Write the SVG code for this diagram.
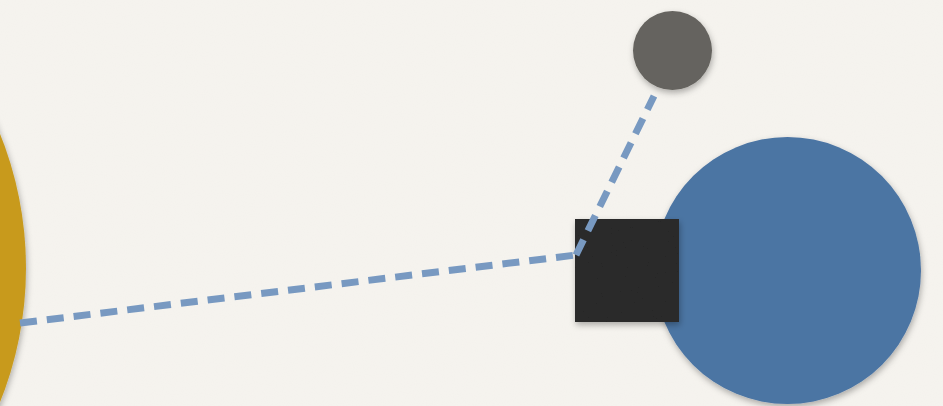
<svg xmlns="http://www.w3.org/2000/svg" width="943" height="406" viewBox="0 0 943 406">
<defs>
<filter id="shadow" x="-20%" y="-20%" width="140%" height="140%">
<feDropShadow dx="1" dy="3" stdDeviation="3" flood-color="#000" flood-opacity="0.3"/>
</filter>
<filter id="paper" x="0" y="0" width="100%" height="100%">
<feTurbulence type="fractalNoise" baseFrequency="0.9" numOctaves="2" seed="3" result="n"/>
<feColorMatrix in="n" type="matrix" values="0 0 0 0 0.5  0 0 0 0 0.47  0 0 0 0 0.42  0 0 0 0.05 0"/>
<feComposite in2="SourceGraphic" operator="over"/>
</filter>
<filter id="grain" x="0" y="0" width="100%" height="100%">
<feTurbulence type="fractalNoise" baseFrequency="0.8" numOctaves="2" seed="7" result="n"/>
<feColorMatrix in="n" type="matrix" values="0 0 0 0 0  0 0 0 0 0  0 0 0 0 0  0 0 0 0.18 0" result="g"/>
<feComposite in="g" in2="SourceAlpha" operator="in" result="gi"/>
<feMerge><feMergeNode in="SourceGraphic"/><feMergeNode in="gi"/></feMerge>
</filter>
</defs>
<style>
.conn{fill:none;stroke:#7899c1;stroke-width:7;stroke-dasharray:17 10}
.node{filter:url(#shadow)}
</style>
<rect width="943" height="406" fill="#f6f4ef" filter="url(#paper)"/>
<g id="node-yellow" class="node"><circle cx="-334" cy="268" r="360" fill="#c89a1e"/></g>
<g id="node-blue" class="node"><circle cx="787.5" cy="270.5" r="133.5" fill="#4b74a3"/></g>
<g id="node-gray" class="node"><circle cx="672.5" cy="50.5" r="39.5" fill="#65635e"/></g>
<g id="node-square" class="node"><rect x="575" y="219" width="104" height="103" fill="#2e2e2e" filter="url(#grain)"/></g>
<g id="connectors">
<line class="conn" x1="20" y1="323" x2="576" y2="255"/>
<line class="conn" x1="576" y1="255" x2="654" y2="96"/>
</g>
</svg>
